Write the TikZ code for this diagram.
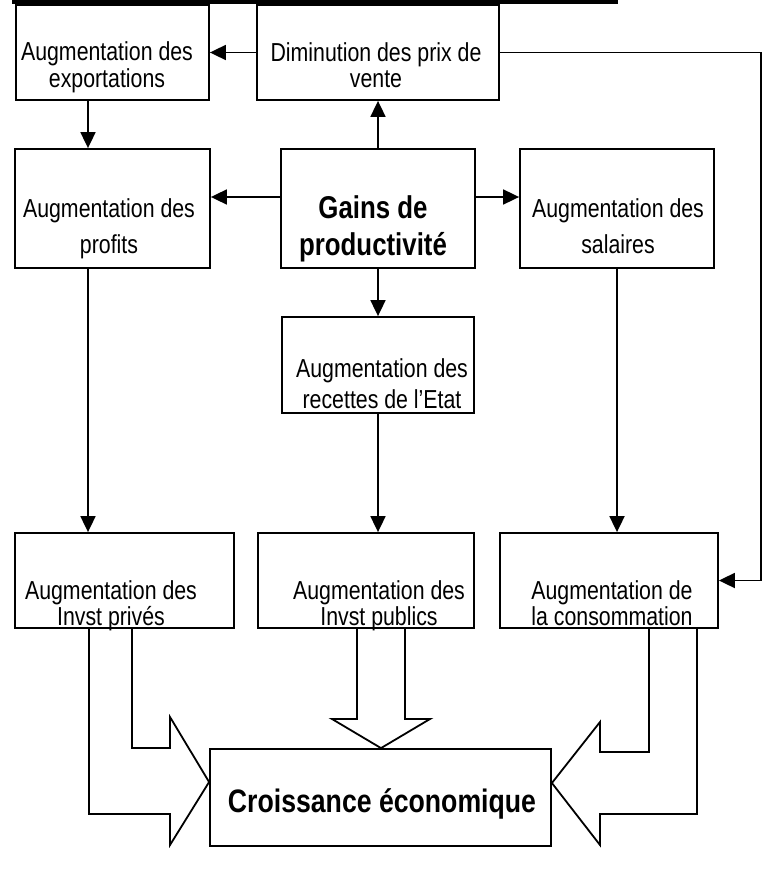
\documentclass[tikz,border=0pt]{standalone}
\usepackage{fontspec}
\setmainfont{Liberation Sans}[FakeStretch=0.82]
\usetikzlibrary{arrows.meta,calc}

\tikzset{
	box/.style={rectangle, draw, line width=1.8pt, inner sep=0pt},
	txt/.style={font=\fontsize{26}{#1}\selectfont, align=center, inner sep=0pt, anchor=base},
	txt/.default=27,
	bigtxt/.style={font=\bfseries\fontsize{#1}{37}\selectfont, align=center, inner sep=0pt, anchor=base},
	arr/.style={line width=1.8pt, -{Triangle[length=16pt,width=15pt]}},
	blk/.style={line width=1.8pt, line join=miter},
}

\begin{document}
\begin{tikzpicture}[x=1pt, y=-1pt]
			\useasboundingbox (0,0) rectangle (774,891);
			\fill (12,0) rectangle (618,4.5);
			% boxes
			\draw (112.5,52.5) node [box, minimum width=193pt, minimum height=95pt] (exp) {};
			\draw (378,52.5) node [box, minimum width=242pt, minimum height=95pt] (dim) {};
			\draw (112.5,208.5) node [box, minimum width=195pt, minimum height=119pt] (prof) {};
			\draw (378,208.5) node [box, minimum width=194pt, minimum height=119pt] (gain) {};
			\draw (617,208.5) node [box, minimum width=194pt, minimum height=119pt] (sal) {};
			\draw (378,365) node [box, minimum width=192pt, minimum height=96pt] (rec) {};
			\draw (124.5,580.5) node [box, minimum width=219pt, minimum height=95pt] (prv) {};
			\draw (366,580.5) node [box, minimum width=216pt, minimum height=95pt] (pub) {};
			\draw (609,580.5) node [box, minimum width=218pt, minimum height=95pt] (con) {};
			\draw (380.5,797.5) node [box, minimum width=341pt, minimum height=97pt] (cro) {};
			% texts (base = last line)
			\draw (107,88) node [txt=27] (expT) {Augmentation des\\exportations};
			\draw (376,88) node [txt=26] (dimT) {Diminution des prix de\\vente};
			\draw (109,253) node [txt=36] (profT) {Augmentation des\\profits};
			\draw (373,255) node [bigtxt=31.5] (gainT) {Gains de\\productivité};
			\draw (618,253) node [txt=36] (salT) {Augmentation des\\salaires};
			\draw (382,408) node [txt=31] (recT) {Augmentation des\\recettes de l’Etat};
			\draw (111,625) node [txt=23] (prvT) {Augmentation des\\Invst privés};
			\draw (379,625) node [txt=23] (pubT) {Augmentation des\\Invst publics};
			\draw (612,625) node [txt=23] (conT) {Augmentation de\\la consommation};
			\draw (382,812) node [bigtxt=32.5] (croT) {Croissance économique};
			% arrows
			\path[arr] (dim) edge (exp)
			(gain) edge (dim)
			(gain) edge (rec);
			\draw[arr] (exp.south -| 88,0) -- (prof.north -| 88,0);
			\draw[arr] (prof.south -| 88,0) -- (prv.north -| 88,0);
			\draw[arr] (gain.west |- 0,197) -- (prof.east |- 0,197);
			\draw[arr] (gain.east |- 0,197) -- (sal.west |- 0,197);
			\draw[arr] (rec.south) -- (rec.south |- pub.north);
			\draw[arr] (sal.south) -- (sal.south |- con.north);
			\draw[arr] (dim.east) -| ($(con.east)+(42,0)$) -- (con.east);
			% block arrows
			\draw[blk] (89,0 |- prv.south) -- (89,814) -- (170,814) -- (170,845) -- (cro.west |- 0,782)
			-- (170,717) -- (170,748) -- (132,748) -- (132,0 |- prv.south);
			\draw[blk] (357,0 |- pub.south) -- (357,719) -- (332,719) -- (381,0 |- cro.north)
			-- (430,719) -- (405,719) -- (405,0 |- pub.south);
			\draw[blk] (649,0 |- con.south) -- (649,752) -- (600,752) -- (600,722) -- (cro.east |- 0,783)
			-- (600,845) -- (600,814) -- (697,814) -- (697,0 |- con.south);
		\end{tikzpicture}
\end{document}
